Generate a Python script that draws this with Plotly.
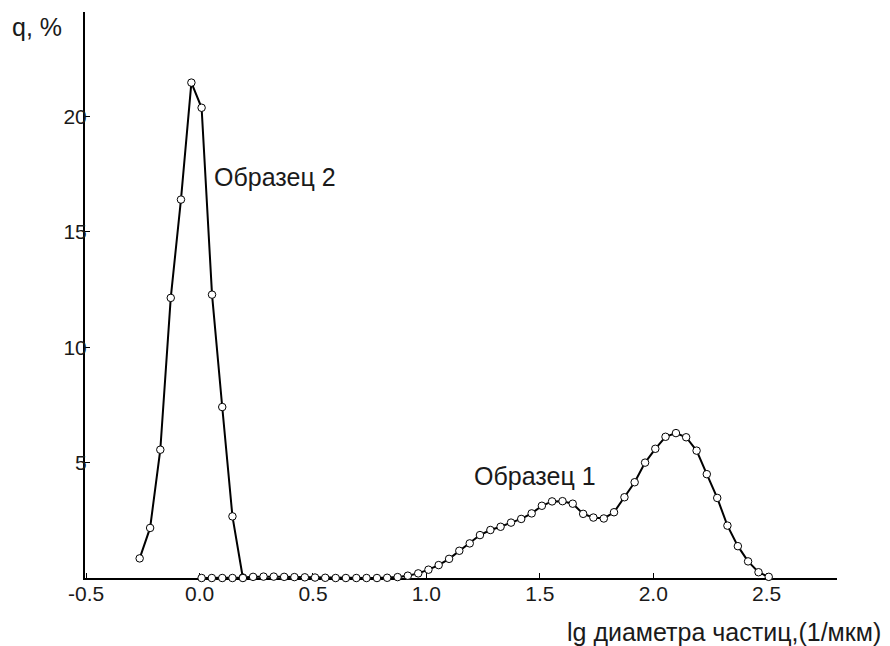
import plotly.graph_objects as go

# Sample 2 (Образец 2)
s2_x = [-0.264, -0.218, -0.173, -0.127, -0.082, -0.036, 0.009, 0.055, 0.100, 0.145, 0.191]
s2_y = [0.85, 2.17, 5.56, 12.14, 16.40, 21.47, 20.38, 12.28, 7.41, 2.67, 0.0]

# Sample 1 (Образец 1)
s1_x = [0.009, 0.054, 0.100, 0.145, 0.191, 0.236, 0.282, 0.327, 0.373, 0.418,
        0.464, 0.509, 0.554, 0.600, 0.645, 0.691, 0.736, 0.782, 0.827, 0.873,
        0.918, 0.964, 1.009, 1.054, 1.100, 1.145, 1.191, 1.236, 1.282, 1.327,
        1.373, 1.418, 1.464, 1.509, 1.554, 1.600, 1.645, 1.691, 1.736, 1.782,
        1.827, 1.873, 1.918, 1.964, 2.009, 2.054, 2.100, 2.145, 2.191, 2.236,
        2.282, 2.327, 2.373, 2.418, 2.464, 2.509]
s1_y = [0.0, 0.0, 0.0, 0.0, 0.02, 0.05, 0.06, 0.06, 0.05, 0.04,
        0.03, 0.02, 0.01, 0.0, 0.0, 0.0, 0.0, 0.0, 0.01, 0.04,
        0.10, 0.20, 0.36, 0.56, 0.83, 1.18, 1.50, 1.86, 2.08, 2.22,
        2.40, 2.56, 2.80, 3.13, 3.32, 3.33, 3.22, 2.78, 2.62, 2.58,
        2.85, 3.50, 4.15, 5.00, 5.60, 6.12, 6.28, 6.10, 5.52, 4.50,
        3.47, 2.27, 1.38, 0.72, 0.25, 0.05]

x_ticks = [-0.5, 0.0, 0.5, 1.0, 1.5, 2.0, 2.5]
x_tick_labels = ["-0.5", "0.0", "0.5", "1.0", "1.5", "2.0", "2.5"]
y_ticks = [5, 10, 15, 20]
y_tick_labels = ["5", "10", "15", "20"]

FONT = "Liberation Sans, Arial, sans-serif"
marker = dict(size=7.5, color="white", line=dict(color="black", width=1))
line = dict(color="black", width=2)

W, H = 890, 646
pl, pr, pt, pb = 85, 53, 12, 68
pw, ph = W - pl - pr, H - pt - pb
def px_to_paper(px, py):
    return (px - pl) / pw, 1 - (py - pt) / ph

fig = go.Figure()
fig.add_trace(go.Scatter(x=s1_x, y=s1_y, mode="lines+markers", line=line,
                         marker=marker, cliponaxis=False, showlegend=False))
fig.add_trace(go.Scatter(x=s2_x, y=s2_y, mode="lines+markers", line=line,
                         marker=marker, cliponaxis=False, showlegend=False))

ax, ay = px_to_paper(10, 27)
bx, by = px_to_paper(883, 632)

fig.update_layout(
    width=W, height=H,
    margin=dict(l=pl, r=pr, t=pt, b=pb),
    paper_bgcolor="white", plot_bgcolor="white",
    font=dict(family=FONT, color="#1a1a1a", size=21),
    xaxis=dict(range=[-0.505, 2.81], tickvals=x_ticks, ticktext=x_tick_labels,
               showgrid=False, zeroline=False, showline=True, linecolor="black",
               linewidth=2, ticks="inside", ticklen=5, tickwidth=1, tickcolor="black",
               tickfont=dict(size=21), ticklabelstandoff=-4, layer="below traces"),
    yaxis=dict(range=[0, 24.53], tickvals=y_ticks, ticktext=y_tick_labels,
               showgrid=False, zeroline=False, showline=True, linecolor="black",
               linewidth=2, ticks="inside", ticklen=5, tickwidth=1, tickcolor="black",
               tickfont=dict(size=21), ticklabelstandoff=-8, layer="below traces"),
    annotations=[
        dict(text="Образец 2", x=0.056, y=17.4, xref="x", yref="y",
             xanchor="left", yanchor="middle", showarrow=False, font=dict(size=25)),
        dict(text="Образец 1", x=1.203, y=4.42, xref="x", yref="y",
             xanchor="left", yanchor="middle", showarrow=False, font=dict(size=25)),
        dict(text="q, %", x=ax, y=ay, xref="paper", yref="paper",
             xanchor="left", yanchor="middle", showarrow=False, font=dict(size=25)),
        dict(text="lg диаметра частиц,(1/мкм)", x=bx, y=by, xref="paper", yref="paper",
             xanchor="right", yanchor="middle", showarrow=False, font=dict(size=25)),
    ],
)

fig.write_html("out.html", config={"displayModeBar": False},
               post_script="document.body.style.margin='0px';document.body.style.padding='0px';")
